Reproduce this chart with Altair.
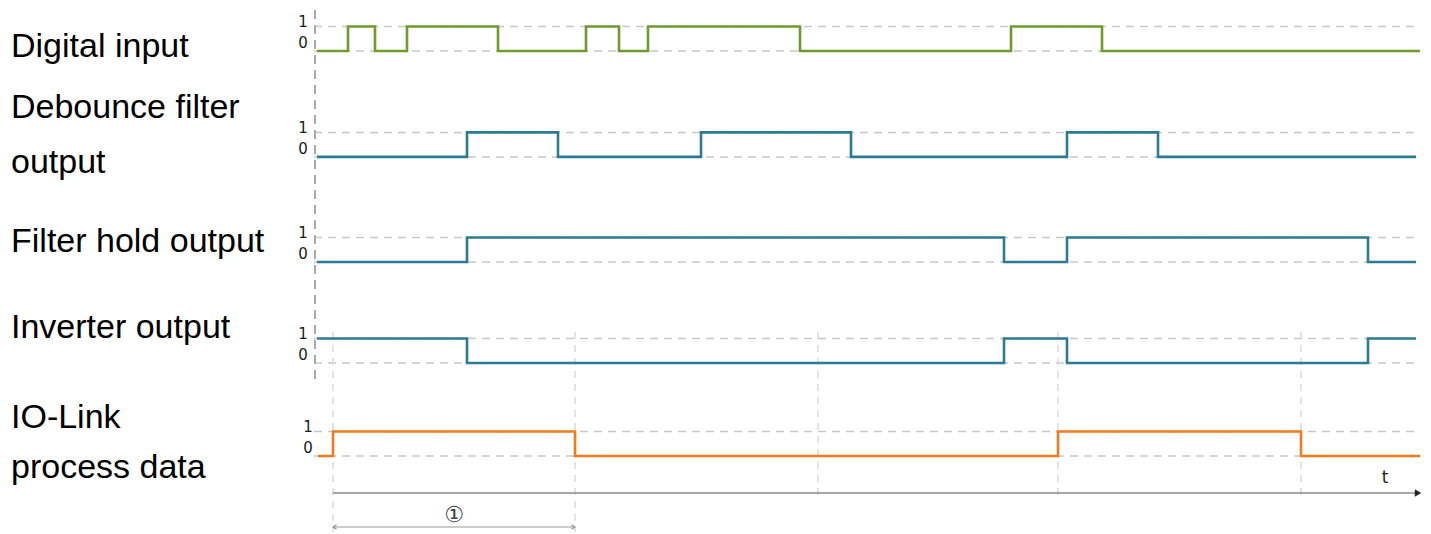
import altair as alt
import pandas as pd

# ---------------- data ----------------
signal_names = ["Digital input", "Debounce filter output", "Filter hold output",
                "Inverter output", "IO-Link process data"]
signal_colors = ["#6f9a2e", "#2b7c92", "#2b7c92", "#2b7c92", "#f27b1c"]

# time in arbitrary units, start level, edge times (each edge toggles the level), end time
digital_start, digital_init, digital_end = -1, 0, 1102
digital_edges = [30, 57, 89, 180, 268, 301, 330, 482, 693, 784]

debounce_start, debounce_init, debounce_end = -1, 0, 1098
debounce_edges = [149, 240, 383, 533, 749, 840]

hold_start, hold_init, hold_end = -1, 0, 1098
hold_edges = [149, 686, 749, 1050]

inverter_start, inverter_init, inverter_end = -1, 1, 1098
inverter_edges = [149, 686, 749, 1050]

iolink_start, iolink_init, iolink_end = 0, 0, 1102
iolink_edges = [15, 257, 740, 983]

cycle_marks = [15, 257, 500, 740, 983]       # IO-Link cycle boundaries
cycle_label = "①"
level_labels = ["1", "0"]
label_lines = [["Digital input"], ["Debounce filter", "output"], ["Filter hold output"],
               ["Inverter output"], ["IO-Link", "process data"]]

# ---------------- layout (level units) ----------------
U = 24.5                     # px per level unit
H = 524
W = 1415
row_base = [19.63, 15.31, 11.02, 6.90, 3.10]
label_base = [[19.39], [16.90, 14.65], [11.43], [7.92], [4.24, 2.20]]
line_start, line_end = -4, 1097


def steps(start, init, edges, end, name):
    rows = [(start, init)]
    lvl = init
    for e in edges:
        lvl = 1 - lvl
        rows.append((e, lvl))
    rows.append((end, lvl))
    return [{"t": t, "lvl": l, "sig": name} for t, l in rows]


sig_rows = []
sig_rows += steps(digital_start, digital_init, digital_edges, digital_end, signal_names[0])
sig_rows += steps(debounce_start, debounce_init, debounce_edges, debounce_end, signal_names[1])
sig_rows += steps(hold_start, hold_init, hold_edges, hold_end, signal_names[2])
sig_rows += steps(inverter_start, inverter_init, inverter_edges, inverter_end, signal_names[3])
sig_rows += steps(iolink_start, iolink_init, iolink_edges, iolink_end, signal_names[4])
sig_df = pd.DataFrame(sig_rows)
base_map = dict(zip(signal_names, row_base))
sig_df["v"] = sig_df["lvl"] + sig_df["sig"].map(base_map)

xs = alt.Scale(domain=[-310, -310 + W], nice=False, zero=False)
ys = alt.Scale(domain=[0, H / U], nice=False, zero=False)
X = lambda f: alt.X(f, type="quantitative", scale=xs, axis=None)
Y = lambda f: alt.Y(f, type="quantitative", scale=ys, axis=None)

# dashed level reference lines
lvl_rows = []
for b in row_base:
    for l in (0, 1):
        lvl_rows.append({"x": line_start, "x2": line_end, "v": b + l})
lvl_df = pd.DataFrame(lvl_rows)
level_lines = alt.Chart(lvl_df).mark_rule(color="#c8c8c8", strokeWidth=1.5, strokeDash=[8, 6]).encode(
    x=X("x"), x2="x2", y=Y("v"))

# level tick labels
tl_rows = []
for i, b in enumerate(row_base):
    tx = -10 if i == 4 else -15
    tl_rows.append({"t": tx, "v": b + 1 + 0.2, "txt": level_labels[0]})
    tl_rows.append({"t": tx, "v": b + 0.33, "txt": level_labels[1]})
tick_labels = alt.Chart(pd.DataFrame(tl_rows)).mark_text(
    font="DejaVu Sans", fontSize=15, color="#1a1a1a", baseline="middle", align="center").encode(
    x=X("t"), y=Y("v"), text="txt:N")

# left vertical dashed axis
left_axis = alt.Chart(pd.DataFrame([{"x": -3, "y": (532 - 10) / U, "y2": (532 - 380) / U}])).mark_rule(
    color="#aaaaaa", strokeWidth=2, strokeDash=[9, 6]).encode(x=X("x"), y=Y("y"), y2="y2")

# cycle gridlines
grid_rows = []
for i, c in enumerate(cycle_marks):
    grid_rows.append({"x": c, "y": (532 - 332) / U, "y2": (532 - (533 if i < 2 else 498)) / U})
grid = alt.Chart(pd.DataFrame(grid_rows)).mark_rule(
    color="#dadada", strokeWidth=1.5, strokeDash=[7, 6]).encode(x=X("x"), y=Y("y"), y2="y2")

# time axis
axis_v = (532 - 493) / U
time_axis = alt.Chart(pd.DataFrame([{"x": cycle_marks[0], "x2": 1099, "v": axis_v}])).mark_rule(
    color="#8a8a8a", strokeWidth=1.6).encode(x=X("x"), x2="x2", y=Y("v"))
time_arrow = alt.Chart(pd.DataFrame([{"x": 1100, "v": axis_v}])).mark_point(
    shape="triangle-right", filled=True, size=55, color="#222222", opacity=1).encode(x=X("x"), y=Y("v"))
t_label = alt.Chart(pd.DataFrame([{"x": 1067, "v": (532 - 478) / U, "txt": "t"}])).mark_text(
    font="DejaVu Sans", fontSize=17, color="#222222", baseline="middle", align="center").encode(
    x=X("x"), y=Y("v"), text="txt:N")

# cycle bracket
br_v = (532 - 527) / U
bracket = alt.Chart(pd.DataFrame([{"x": cycle_marks[0], "x2": cycle_marks[1], "v": br_v}])).mark_rule(
    color="#999999", strokeWidth=1.2).encode(x=X("x"), x2="x2", y=Y("v"))
chev_l = alt.Chart(pd.DataFrame([{"x": cycle_marks[0], "v": br_v}])).mark_point(
    shape="M1,-0.6L0,0L1,0.6", filled=False, size=50, color="#999999", strokeWidth=1.2, opacity=1).encode(
    x=X("x"), y=Y("v"))
chev_r = alt.Chart(pd.DataFrame([{"x": cycle_marks[1], "v": br_v}])).mark_point(
    shape="M-1,-0.6L0,0L-1,0.6", filled=False, size=50, color="#999999", strokeWidth=1.2, opacity=1).encode(
    x=X("x"), y=Y("v"))
circ = alt.Chart(pd.DataFrame([{"x": (cycle_marks[0] + cycle_marks[1]) / 2, "v": (532 - 515) / U,
                                "txt": cycle_label}])).mark_text(
    font="DejaVu Sans", fontSize=22, color="#444444", baseline="middle", align="center").encode(
    x=X("x"), y=Y("v"), text="txt:N")

# row labels
rl_rows = []
for lines, bases in zip(label_lines, label_base):
    for txt, b in zip(lines, bases):
        rl_rows.append({"x": -307, "v": b, "txt": txt})
row_labels = alt.Chart(pd.DataFrame(rl_rows)).mark_text(
    font="Liberation Sans", fontSize=34, color="#000000", baseline="alphabetic", align="left").encode(
    x=X("x"), y=Y("v"), text="txt:N")

signals = alt.Chart(sig_df).mark_line(interpolate="step-after", strokeWidth=2.6).encode(
    x=X("t"), y=Y("v"),
    color=alt.Color("sig:N", scale=alt.Scale(domain=signal_names, range=signal_colors), legend=None),
    detail="sig:N")

chart = alt.layer(level_lines, grid, left_axis, time_axis, time_arrow, t_label, bracket, chev_l, chev_r,
                  circ, tick_labels, row_labels, signals).properties(
    width=W, height=H, padding=0, autosize=alt.AutoSizeParams(type="none")
).configure_view(stroke=None)

chart.save("out.html", embed_options={"renderer": "svg", "actions": False})
